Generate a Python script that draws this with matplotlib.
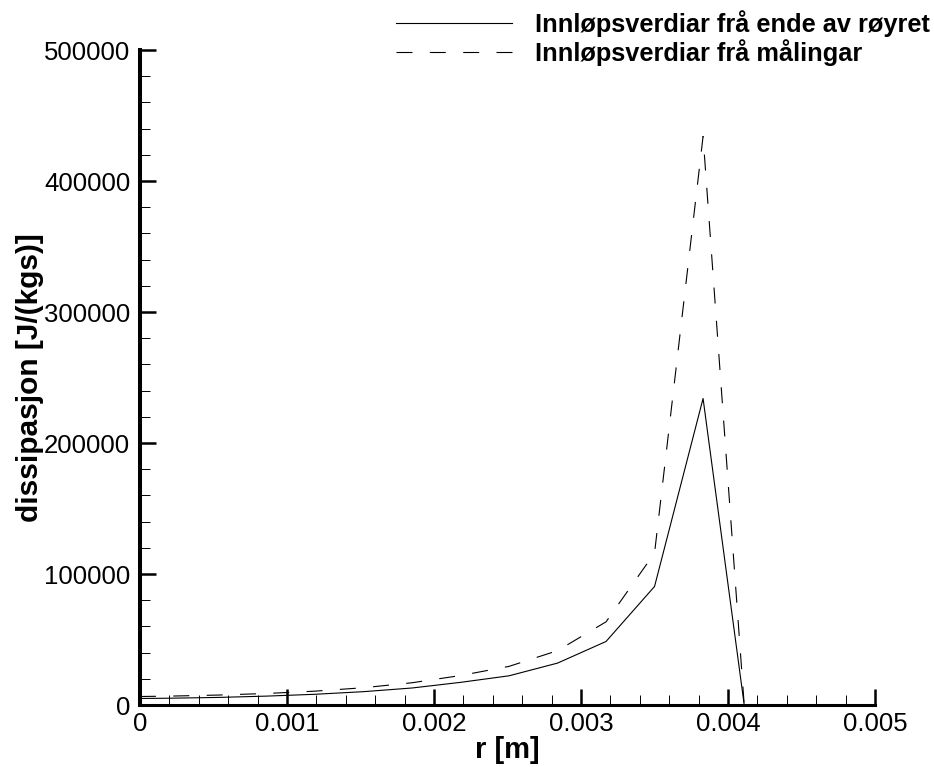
import numpy as np
import matplotlib
matplotlib.use('Agg')
import matplotlib.pyplot as plt
from matplotlib.ticker import MultipleLocator

plt.rcParams['font.family'] = ['Liberation Sans', 'DejaVu Sans']
plt.rcParams['lines.scale_dashes'] = False

# data
r = [0.0, 0.00020, 0.00053, 0.00086, 0.00119, 0.00152, 0.00185,
     0.00218, 0.00251, 0.00284, 0.00317, 0.00350, 0.00383, 0.00411]
diss_ende = [5000, 5200, 5800, 6800, 8200, 10200, 13000,
             17300, 22300, 32000, 48500, 90500, 234000, 0]
diss_maling = [6500, 6800, 7600, 8800, 10600, 13200, 17000,
               22500, 29500, 41500, 63500, 116000, 434000, 0]
lab_ende = 'Innløpsverdiar frå ende av røyret'
lab_maling = 'Innløpsverdiar frå målingar'

fig = plt.figure(figsize=(9.34, 7.67), dpi=100)
ax = fig.add_axes([0.1499, 0.0808, 0.787, 0.854])

ax.plot(r, diss_ende, '-', color='black', lw=0.8, label=lab_ende)
ax.plot(r, diss_maling, color='black', lw=0.8, dashes=(11.5, 12.5),
        label=lab_maling)

ax.set_xlim(0, 0.005)
ax.set_ylim(0, 500000)
ax.xaxis.set_minor_locator(MultipleLocator(0.0002))
ax.yaxis.set_minor_locator(MultipleLocator(20000))
ax.set_xticks([0, 0.001, 0.002, 0.003, 0.004, 0.005])
ax.set_xticklabels(['0', '0.001', '0.002', '0.003', '0.004', '0.005'])
ax.set_yticks([0, 100000, 200000, 300000, 400000, 500000])
ax.set_yticklabels(['0', '100000', '200000', '300000', '400000', '500000'])

for s in ['top', 'right']:
    ax.spines[s].set_visible(False)
ax.spines['left'].set_linewidth(2.9)
ax.spines['bottom'].set_linewidth(2.2)
ax.tick_params(which='major', direction='in', length=11.5, width=1.8,
               labelsize=18.5)
ax.tick_params(which='minor', direction='in', length=7, width=0.7)
ax.tick_params(axis='x', which='major', pad=5)
ax.tick_params(axis='y', which='major', pad=7)

ax.set_xlabel('r [m]', fontsize=21, fontweight='bold', labelpad=0)
ax.set_ylabel('dissipasjon [J/(kgs)]', fontsize=21.5, fontweight='bold',
              labelpad=0)

ax.legend(loc='upper right', bbox_to_anchor=(1.006, 1.0),
          bbox_transform=fig.transFigure, frameon=False,
          prop={'weight': 'bold', 'size': 18.3}, handlelength=4.6,
          handletextpad=0.87, labelspacing=0.1, borderaxespad=0.0,
          borderpad=0.4)

plt.savefig('out.png', dpi=100)
